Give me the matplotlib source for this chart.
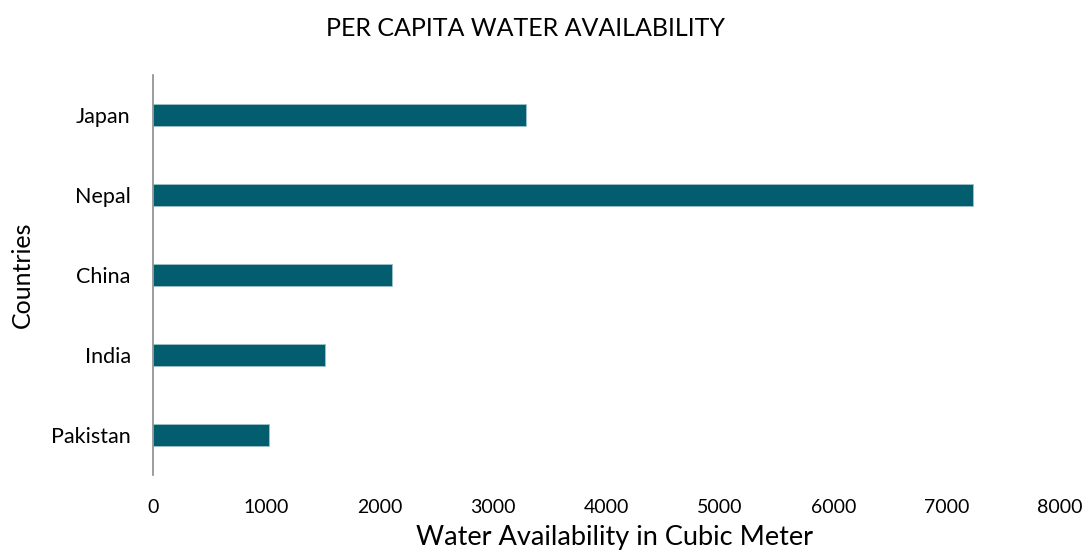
import matplotlib
matplotlib.use("Agg")
import matplotlib.pyplot as plt

# data
countries = ["Japan", "Nepal", "China", "India", "Pakistan"]
water = [3290, 7230, 2105, 1515, 1020]
xticks = [0, 1000, 2000, 3000, 4000, 5000, 6000, 7000, 8000]

plt.rcParams['font.family'] = ['Lato', 'DejaVu Sans']

fig = plt.figure(figsize=(10.89, 5.53), dpi=100)
ax = fig.add_axes([0.1405, 0.141, 0.833, 0.723])

ypos = list(range(len(countries)))
ax.barh(ypos, water, height=0.28, color="#025E6E", edgecolor="#9cc3c9", linewidth=0.6)

ax.set_ylim(len(countries) - 0.5, -0.5)
ax.set_xlim(0, 8000)
ax.set_yticks(ypos)
ax.set_yticklabels(countries, fontsize=15.5)
ax.set_xticks(xticks)
ax.set_xticklabels([str(t) for t in xticks], fontsize=14)
ax.tick_params(axis="x", length=0, pad=17)
ax.tick_params(axis="y", length=0, pad=16)

for s in ["top", "right", "bottom"]:
    ax.spines[s].set_visible(False)
ax.spines["left"].set_color("#8c8c8c")
ax.spines["left"].set_linewidth(1.2)

ax.set_xlabel("Water Availability in Cubic Meter", fontsize=19.5)
ax.xaxis.set_label_coords(0.509, -0.125)
ax.set_ylabel("Countries", fontsize=18, labelpad=12)
fig.text(0.483, 0.948, "PER CAPITA WATER AVAILABILITY", ha="center", va="center", fontsize=18)

fig.savefig("out.png", dpi=100)
